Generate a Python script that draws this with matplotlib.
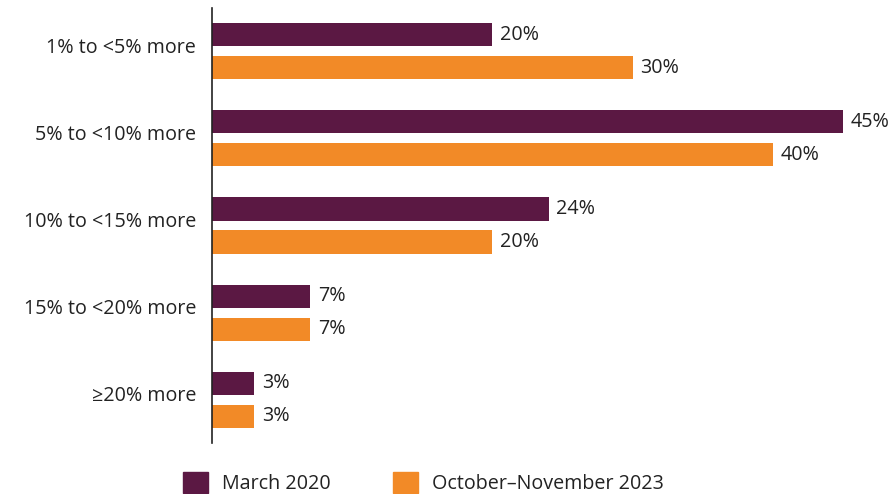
import numpy as np
import matplotlib.pyplot as plt
import matplotlib.patches as mpatches
import matplotlib.transforms as mtransforms

plt.rcParams['font.family'] = ['Open Sans', 'DejaVu Sans']

categories = ['1% to <5% more', '5% to <10% more', '10% to <15% more',
              '15% to <20% more', '≥20% more']
march_2020 = [20, 45, 24, 7, 3]
oct_nov_2023 = [30, 40, 20, 7, 3]
series_names = ['March 2020', 'October–November 2023']

purple = '#5B1843'
orange = '#F28A27'
fs = 14.2

fig = plt.figure(figsize=(8.94, 4.94), dpi=100)
ax = fig.add_axes([212 / 894, 51 / 494, 631 / 894, 435 / 494])

y = np.arange(len(categories))
off = 0.189
h = 0.264
ax.barh(y - off, march_2020, height=h, color=purple)
ax.barh(y + off, oct_nov_2023, height=h, color=orange)

for yi, v in zip(y - off, march_2020):
    ax.text(v + 0.55, yi, f'{v}%', va='center', ha='left', fontsize=fs,
            color='#222222', clip_on=False)
for yi, v in zip(y + off, oct_nov_2023):
    ax.text(v + 0.55, yi, f'{v}%', va='center', ha='left', fontsize=fs,
            color='#222222', clip_on=False)

ax.set_xlim(0, 45)
ax.set_ylim(4.493, -0.493)
ax.set_yticks(y)
ax.set_yticklabels(categories, fontsize=fs, color='#222222')
ax.tick_params(axis='y', length=0, pad=11.5)
# nudge category labels up a little, like the original
shift = mtransforms.ScaledTranslation(0, 6 / 100, fig.dpi_scale_trans)
for lbl in ax.get_yticklabels():
    lbl.set_transform(lbl.get_transform() + shift)
ax.set_xticks([])
for s in ['top', 'right', 'bottom']:
    ax.spines[s].set_visible(False)
ax.spines['left'].set_color('#222222')
ax.spines['left'].set_linewidth(1.2)

handles = [mpatches.Patch(color=purple, label=series_names[0]),
           mpatches.Patch(color=orange, label=series_names[1])]
fig.legend(handles=handles, loc='center left', bbox_to_anchor=(165 / 894, 11 / 494),
           ncol=2, frameon=False, fontsize=fs, handlelength=1.27,
           handleheight=1.25, handletextpad=0.7, columnspacing=3.2,
           labelcolor='#222222')

fig.savefig('out.png', dpi=100)
